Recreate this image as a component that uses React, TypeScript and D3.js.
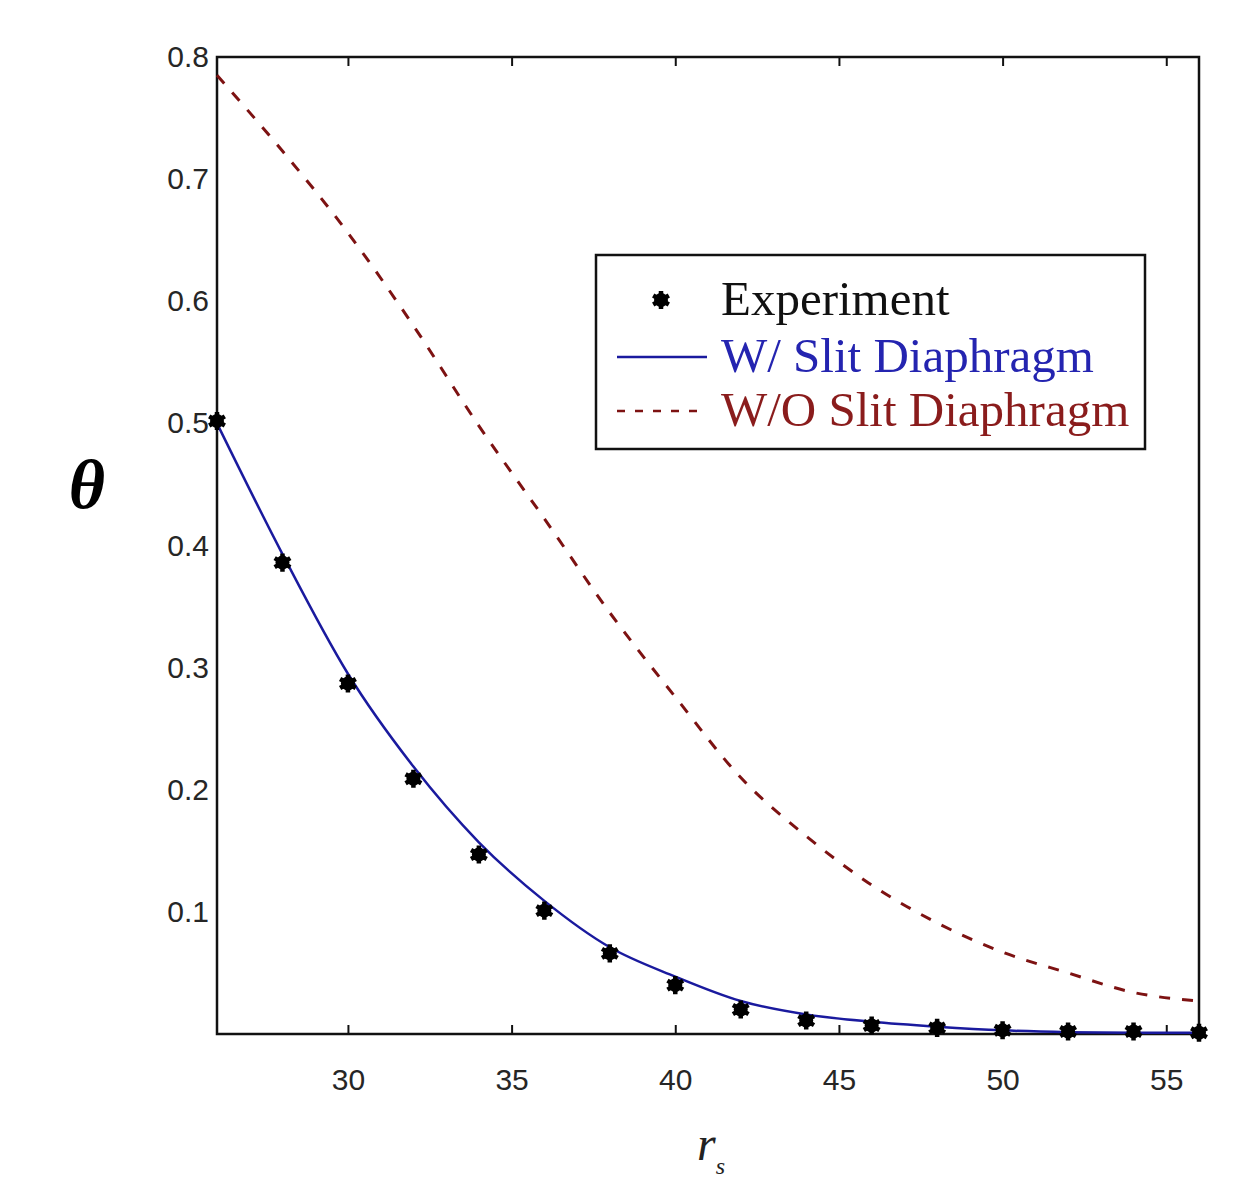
import React, { useEffect, useRef } from 'react';
import * as d3 from 'd3';

// r_s positions sampled every 2 units
const rs = [26, 28, 30, 32, 34, 36, 38, 40, 42, 44, 46, 48, 50, 52, 54, 56];
const experiment = [0.502, 0.386, 0.287, 0.209, 0.147, 0.101, 0.066, 0.04, 0.02, 0.011, 0.007, 0.005, 0.003, 0.002, 0.002, 0.001];
const withSlit = [0.5, 0.393, 0.295, 0.219, 0.157, 0.109, 0.071, 0.047, 0.027, 0.016, 0.01, 0.006, 0.003, 0.0015, 0.001, 0.001];
const withoutSlit = [0.785, 0.723, 0.656, 0.58, 0.498, 0.422, 0.345, 0.276, 0.21, 0.162, 0.122, 0.091, 0.067, 0.05, 0.034, 0.027];
const xTicks = [30, 35, 40, 45, 50, 55];
const yTicks = [0.1, 0.2, 0.3, 0.4, 0.5, 0.6, 0.7, 0.8];
const legendLabels = ['Experiment', 'W/ Slit Diaphragm', 'W/O Slit Diaphragm'];

const W = 1249;
const H = 1179;
const BLUE = '#1a1a9e';
const RED = '#7d1212';

export default function App() {
  const ref = useRef<SVGSVGElement>(null);

  useEffect(() => {
    const svg = d3.select(ref.current);
    svg.selectAll('*').remove();

    const left = 217, right = 1199, top = 57, bottom = 1034;
    const x = d3.scaleLinear().domain([26, 56]).range([left, right]);
    const y = d3.scaleLinear().domain([0, 0.8]).range([bottom, top]);

    svg.append('rect').attr('width', W).attr('height', H).attr('fill', '#fff');

    const tickFont = '"Liberation Sans", Arial, sans-serif';

    // x ticks point inward, top and bottom; y axis has labels only
    const gx = svg.append('g').attr('transform', `translate(0,${bottom})`)
      .call(d3.axisBottom(x).tickValues(xTicks).tickSizeInner(-9).tickSizeOuter(0).tickPadding(35).tickFormat(d3.format('d')));
    const gy = svg.append('g').attr('transform', `translate(${left},0)`)
      .call(d3.axisLeft(y).tickValues(yTicks).tickSizeInner(0).tickSizeOuter(0).tickPadding(8).tickFormat(d3.format('.1f')));
    const gt = svg.append('g').attr('transform', `translate(0,${top})`)
      .call(d3.axisTop(x).tickValues(xTicks).tickSizeInner(-9).tickSizeOuter(0).tickFormat(() => ''));

    [gx, gy, gt].forEach(g => {
      g.select('.domain').remove();
      g.selectAll('line').attr('stroke', '#111').attr('stroke-width', 2);
      g.selectAll('text').attr('font-family', tickFont).attr('font-size', 30).attr('fill', '#262626');
    });
    gy.selectAll('line').remove();

    // frame
    svg.append('rect')
      .attr('x', left).attr('y', top)
      .attr('width', right - left).attr('height', bottom - top)
      .attr('fill', 'none').attr('stroke', '#111').attr('stroke-width', 2.5);

    const line = d3.line<number>()
      .x((d, i) => x(rs[i]))
      .y(d => y(d))
      .curve(d3.curveMonotoneX);

    svg.append('path')
      .attr('d', line(withoutSlit))
      .attr('fill', 'none').attr('stroke', RED).attr('stroke-width', 3)
      .attr('stroke-dasharray', '11,12');

    svg.append('path')
      .attr('d', line(withSlit))
      .attr('fill', 'none').attr('stroke', BLUE).attr('stroke-width', 2.5);

    const marker = (g: d3.Selection<SVGGElement, unknown, null, undefined>) => {
      g.append('circle').attr('r', 7).attr('fill', '#000');
      g.append('path').attr('d', d3.symbol(d3.symbolAsterisk, 230)()).attr('stroke', '#000').attr('stroke-width', 4.5);
    };

    experiment.forEach((v, i) => {
      const g = svg.append('g').attr('transform', `translate(${x(rs[i])},${y(v)})`);
      marker(g);
    });

    // legend
    const lg = svg.append('g');
    lg.append('rect')
      .attr('x', 596).attr('y', 255).attr('width', 549).attr('height', 194)
      .attr('fill', '#fff').attr('stroke', '#111').attr('stroke-width', 2.5);
    const serif = '"Liberation Serif", "Times New Roman", serif';
    const rows = [300, 357, 411];
    const colors = ['#111', '#2424b0', '#8a1c1c'];
    const m = lg.append('g').attr('transform', `translate(661,${rows[0]})`);
    marker(m);
    lg.append('line').attr('x1', 617).attr('x2', 707).attr('y1', rows[1]).attr('y2', rows[1])
      .attr('stroke', BLUE).attr('stroke-width', 2.5);
    lg.append('line').attr('x1', 617).attr('x2', 707).attr('y1', rows[2]).attr('y2', rows[2])
      .attr('stroke', RED).attr('stroke-width', 2.5).attr('stroke-dasharray', '8,10');
    legendLabels.forEach((t, i) => {
      lg.append('text')
        .attr('x', 721).attr('y', rows[i] + 15)
        .attr('font-family', serif).attr('font-size', 49)
        .attr('fill', colors[i])
        .text(t);
    });

    // axis titles
    svg.append('text')
      .attr('x', 87).attr('y', 508)
      .attr('text-anchor', 'middle')
      .attr('font-family', serif).attr('font-size', 70)
      .attr('font-weight', 'bold').attr('font-style', 'italic')
      .text('θ');

    const xt = svg.append('text')
      .attr('x', 697).attr('y', 1160)
      .attr('font-family', serif).attr('font-style', 'italic').attr('font-size', 48)
      .attr('fill', '#222');
    xt.append('tspan').text('r');
    xt.append('tspan').attr('font-size', 24).attr('dy', 14).text('s');
  }, []);

  return (
    <svg ref={ref} width={W} height={H}
      style={{ position: 'absolute', left: 0, top: 0, display: 'block' }} />
  );
}
